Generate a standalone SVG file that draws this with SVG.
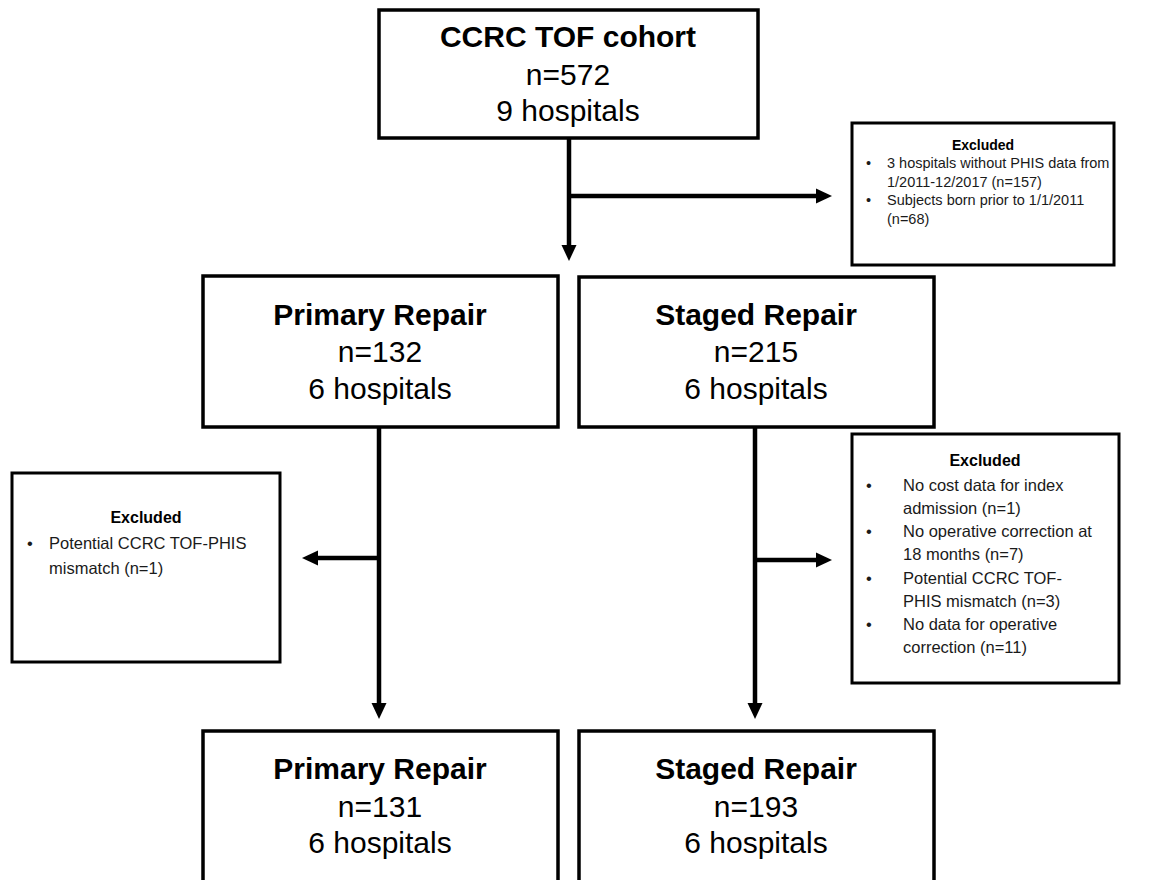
<svg xmlns="http://www.w3.org/2000/svg" width="1173" height="880" viewBox="0 0 1173 880">
<defs>
<style>
.box{fill:#fff;stroke:#000;stroke-width:3.5}
.ebox{fill:#fff;stroke:#000;stroke-width:3}
.t{font-family:"Liberation Sans",Arial,sans-serif;fill:#000;text-anchor:middle}
.h{font-size:30px;font-weight:bold}
.n{font-size:30px}
.e{font-family:"Liberation Sans",Arial,sans-serif;fill:#1a1a1a;font-size:16.5px}
.eh{font-family:"Liberation Sans",Arial,sans-serif;font-weight:bold;text-anchor:middle;fill:#000;font-size:16px}
.s{font-size:14.5px}
.line{stroke:#000;stroke-width:4.5;fill:none}
.head{fill:#000;stroke:none}
</style>
</defs>
<rect width="1173" height="880" fill="#fff"/>
<g id="connectors">
<line class="line" x1="569" y1="138" x2="569" y2="247"/>
<polygon class="head" points="561.5,245 576.5,245 569,261"/>
<line class="line" x1="567" y1="196" x2="818" y2="196"/>
<polygon class="head" points="816,188.5 816,203.5 832,196"/>
<line class="line" x1="379" y1="427" x2="379" y2="705"/>
<polygon class="head" points="371.5,703 386.5,703 379,719"/>
<line class="line" x1="381" y1="558" x2="316" y2="558"/>
<polygon class="head" points="318,550.5 318,565.5 302,558"/>
<line class="line" x1="755" y1="427" x2="755" y2="705"/>
<polygon class="head" points="747.5,703 762.5,703 755,719"/>
<line class="line" x1="753" y1="560" x2="818" y2="560"/>
<polygon class="head" points="816,552.5 816,567.5 832,560"/>
</g>
<g id="cohort">
<rect class="box" x="379" y="10" width="379" height="128"/>
<text class="t h" x="568" y="47">CCRC TOF cohort</text>
<text class="t n" x="568" y="85">n=572</text>
<text class="t n" x="568" y="121">9 hospitals</text>
</g>
<g id="excluded1">
<rect class="ebox" x="852" y="123" width="262" height="142"/>
<text class="eh" x="983" y="150" style="font-size:14px">Excluded</text>
<text class="e s" x="866" y="168">•</text>
<text class="e s" x="887" y="168">3 hospitals without PHIS data from</text>
<text class="e s" x="887" y="187">1/2011-12/2017  (n=157)</text>
<text class="e s" x="866" y="205">•</text>
<text class="e s" x="887" y="205">Subjects born prior to 1/1/2011</text>
<text class="e s" x="887" y="224">(n=68)</text>
</g>
<g id="primary1">
<rect class="box" x="203" y="276" width="355" height="151"/>
<text class="t h" x="380" y="325">Primary Repair</text>
<text class="t n" x="380" y="362">n=132</text>
<text class="t n" x="380" y="399">6 hospitals</text>
</g>
<g id="staged1">
<rect class="box" x="579" y="277" width="355" height="150"/>
<text class="t h" x="756" y="325">Staged Repair</text>
<text class="t n" x="756" y="362">n=215</text>
<text class="t n" x="756" y="399">6 hospitals</text>
</g>
<g id="excluded2">
<rect class="ebox" x="12" y="473" width="268" height="189"/>
<text class="eh" x="146" y="523">Excluded</text>
<text class="e" x="27" y="549">•</text>
<text class="e" x="49" y="549">Potential CCRC TOF-PHIS</text>
<text class="e" x="49" y="574">mismatch (n=1)</text>
</g>
<g id="excluded3">
<rect class="ebox" x="852" y="434" width="267" height="249"/>
<text class="eh" x="985" y="466">Excluded</text>
<text class="e" x="866" y="491">•</text>
<text class="e" x="903" y="491">No cost data for index</text>
<text class="e" x="903" y="514">admission (n=1)</text>
<text class="e" x="866" y="537">•</text>
<text class="e" x="903" y="537">No operative correction at</text>
<text class="e" x="903" y="560">18 months (n=7)</text>
<text class="e" x="866" y="584">•</text>
<text class="e" x="903" y="584">Potential CCRC TOF-</text>
<text class="e" x="903" y="607">PHIS mismatch (n=3)</text>
<text class="e" x="866" y="630">•</text>
<text class="e" x="903" y="630">No data for operative</text>
<text class="e" x="903" y="653">correction (n=11)</text>
</g>
<g id="primary2">
<rect class="box" x="203" y="731" width="355" height="170"/>
<text class="t h" x="380" y="779">Primary Repair</text>
<text class="t n" x="380" y="817">n=131</text>
<text class="t n" x="380" y="853">6 hospitals</text>
</g>
<g id="staged2">
<rect class="box" x="579" y="731" width="355" height="170"/>
<text class="t h" x="756" y="779">Staged Repair</text>
<text class="t n" x="756" y="817">n=193</text>
<text class="t n" x="756" y="853">6 hospitals</text>
</g>
</svg>
